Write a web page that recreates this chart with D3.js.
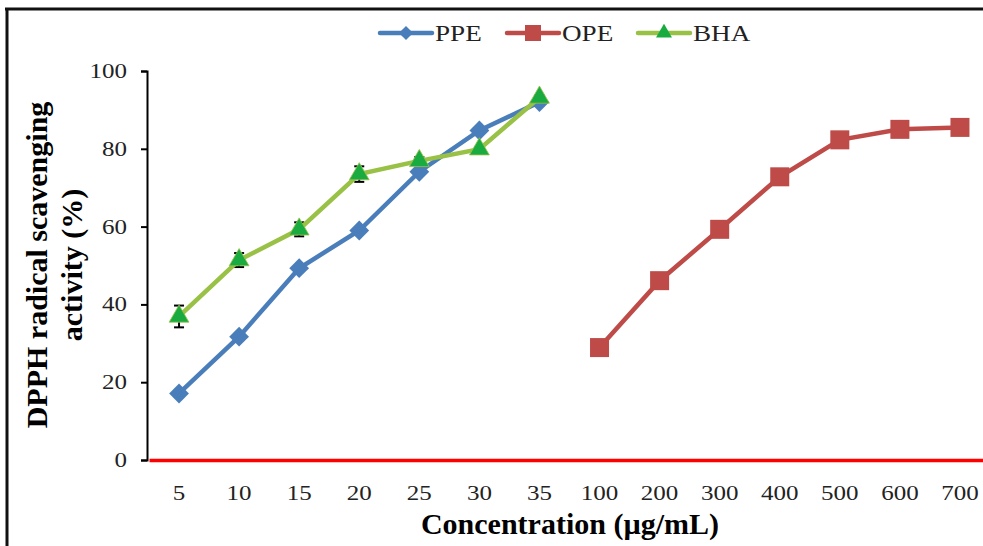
<!DOCTYPE html>
<html>
<head>
<meta charset="utf-8">
<script src="https://cdn.jsdelivr.net/npm/d3@7"></script>
<style>
  body { margin: 0; background: #fff; }
  svg { display: block; font-family: "Liberation Serif", "Times New Roman", serif; }
  svg text { font-family: "Liberation Serif", "Times New Roman", serif; }
</style>
</head>
<body>
<div id="chart"></div>
<script>
// categories on the x axis (ordinal, two dose ranges side by side)
const categories = ["5", "10", "15", "20", "25", "30", "35", "100", "200", "300", "400", "500", "600", "700"];

const ppeCats = ["5", "10", "15", "20", "25", "30", "35"];
const ppeValues = [17.1, 31.7, 49.3, 59.0, 74.1, 84.7, 92.0];

const opeCats = ["100", "200", "300", "400", "500", "600", "700"];
const opeValues = [28.9, 46.1, 59.3, 72.8, 82.3, 85.0, 85.5];

const bhaCats = ["5", "10", "15", "20", "25", "30", "35"];
const bhaValues = [36.9, 51.4, 59.3, 73.5, 76.9, 79.9, 93.2];
const bhaErrors = [2.8, 1.8, 1.8, 2.0, 1.0, 0.5, 0.5];

const yTicks = [0, 20, 40, 60, 80, 100];

const width = 983, height = 546;
const margin = { top: 71, right: -7, bottom: 86, left: 149 };

const svg = d3.select("#chart").append("svg")
  .attr("width", width)
  .attr("height", height);

// outer frame (top + left edges visible, rest cropped)
svg.append("line").attr("x1", 5).attr("x2", width).attr("y1", 9).attr("y2", 9)
  .attr("stroke", "#111").attr("stroke-width", 3);
svg.append("line").attr("x1", 7).attr("x2", 7).attr("y1", 8).attr("y2", height)
  .attr("stroke", "#111").attr("stroke-width", 3);

const x = d3.scaleBand()
  .domain(categories)
  .range([margin.left, width - margin.right]);

const y = d3.scaleLinear()
  .domain([0, 100])
  .range([height - margin.bottom, margin.top]);

const cx = c => x(c) + x.bandwidth() / 2;

// y axis
const yAxis = svg.append("g")
  .attr("transform", `translate(${margin.left - 2},0)`)
  .call(d3.axisLeft(y).tickValues(yTicks).tickSize(6).tickPadding(8));
yAxis.attr("font-family", null);
yAxis.select(".domain").attr("stroke", "#000").attr("stroke-width", 2);
yAxis.selectAll(".tick line").attr("stroke", "#000").attr("stroke-width", 2);
yAxis.selectAll(".tick text")
  .attr("font-size", 20).attr("fill", "#222")
  .attr("x", 0)
  .attr("transform", "translate(-20,0) scale(1.25,1)");

// x axis: red baseline, labels only
const xAxis = svg.append("g")
  .attr("transform", `translate(0,${y(0)})`)
  .call(d3.axisBottom(x).tickSize(0).tickPadding(26));
xAxis.attr("font-family", null);
xAxis.select(".domain").attr("stroke", "#ff0000").attr("stroke-width", 3.5);
xAxis.selectAll(".tick text")
  .attr("font-size", 20).attr("fill", "#222")
  .attr("transform", "scale(1.25,1)");

// axis titles
svg.append("text")
  .attr("x", 570).attr("y", 534)
  .attr("text-anchor", "middle")
  .attr("font-size", 30).attr("font-weight", "bold")
  .text("Concentration (µg/mL)");

const yTitle = svg.append("text")
  .attr("transform", "translate(47,265) rotate(-90)")
  .attr("text-anchor", "middle")
  .attr("font-size", 30).attr("font-weight", "bold");
yTitle.append("tspan").attr("x", 0).attr("dy", 0).text("DPPH radical scavenging");
yTitle.append("tspan").attr("x", 0).attr("dy", 35).text("activity (%)");

const line = d3.line().x(d => cx(d[0])).y(d => y(d[1]));

const ppe = ppeCats.map((c, i) => [c, ppeValues[i]]);
const ope = opeCats.map((c, i) => [c, opeValues[i]]);
const bha = bhaCats.map((c, i) => [c, bhaValues[i], bhaErrors[i]]);

const colors = { ppe: "#4a7ebb", ope: "#be4b48", bhaLine: "#98c146", bhaMark: "#1aab40" };

// PPE
svg.append("path").datum(ppe)
  .attr("fill", "none").attr("stroke", colors.ppe).attr("stroke-width", 4.5)
  .attr("d", line);
svg.append("g").selectAll("rect").data(ppe).join("rect")
  .attr("x", -7).attr("y", -7).attr("width", 14).attr("height", 14)
  .attr("transform", d => `translate(${cx(d[0])},${y(d[1])}) rotate(45)`)
  .attr("fill", colors.ppe);

// OPE
svg.append("path").datum(ope)
  .attr("fill", "none").attr("stroke", colors.ope).attr("stroke-width", 4.5)
  .attr("d", line);
svg.append("g").selectAll("rect").data(ope).join("rect")
  .attr("x", d => cx(d[0]) - 9.5).attr("y", d => y(d[1]) - 9.5)
  .attr("width", 19).attr("height", 19)
  .attr("fill", colors.ope);

// BHA error bars
const eb = svg.append("g").attr("stroke", "#000").attr("stroke-width", 2);
bha.forEach(d => {
  const px = cx(d[0]);
  eb.append("line").attr("x1", px).attr("x2", px)
    .attr("y1", y(d[1] + d[2])).attr("y2", y(d[1] - d[2]));
  eb.append("line").attr("x1", px - 5).attr("x2", px + 5)
    .attr("y1", y(d[1] + d[2])).attr("y2", y(d[1] + d[2]));
  eb.append("line").attr("x1", px - 5).attr("x2", px + 5)
    .attr("y1", y(d[1] - d[2])).attr("y2", y(d[1] - d[2]));
});

// BHA
svg.append("path").datum(bha)
  .attr("fill", "none").attr("stroke", colors.bhaLine).attr("stroke-width", 4.5)
  .attr("d", line);
svg.append("g").selectAll("path").data(bha).join("path")
  .attr("transform", d => `translate(${cx(d[0])},${y(d[1])})`)
  .attr("d", d3.symbol(d3.symbolTriangle, 170))
  .attr("fill", colors.bhaMark)
  .attr("stroke", colors.bhaLine).attr("stroke-width", 0.8);

// legend
const legendItems = [
  { name: "PPE", x: 380, color: colors.ppe, mark: "diamond" },
  { name: "OPE", x: 507, color: colors.ope, mark: "square" },
  { name: "BHA", x: 638, color: colors.bhaLine, mark: "triangle" }
];
const lg = svg.append("g").attr("transform", "translate(0,33)");
legendItems.forEach(it => {
  const g = lg.append("g").attr("transform", `translate(${it.x},0)`);
  g.append("line").attr("x1", 0).attr("x2", 52).attr("y1", 0).attr("y2", 0)
    .attr("stroke", it.color).attr("stroke-width", 4.5).attr("stroke-linecap", "round");
  if (it.mark === "diamond") {
    g.append("rect").attr("x", -5).attr("y", -5).attr("width", 10).attr("height", 10)
      .attr("transform", "translate(26,0) rotate(45)").attr("fill", colors.ppe);
  } else if (it.mark === "square") {
    g.append("rect").attr("x", 18).attr("y", -8).attr("width", 16).attr("height", 16)
      .attr("fill", colors.ope);
  } else {
    g.append("path").attr("transform", "translate(26,0)")
      .attr("d", d3.symbol(d3.symbolTriangle, 110)).attr("fill", colors.bhaMark);
  }
  g.append("text").attr("x", 0).attr("y", 0)
    .attr("transform", "translate(55,8) scale(1.18,1)")
    .attr("font-size", 23).attr("fill", "#222")
    .text(it.name);
});
</script>
</body>
</html>
